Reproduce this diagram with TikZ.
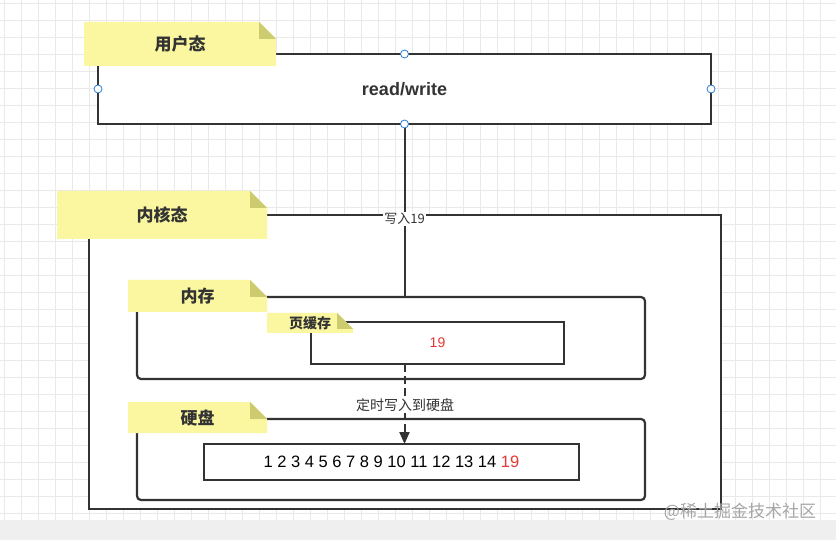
\documentclass[tikz,border=0pt]{standalone}
\usepackage{fontspec}
\setmainfont{Noto Sans CJK SC}
\newfontfamily\latinfont{Liberation Sans}
\usetikzlibrary{arrows.meta,calc,positioning}

\definecolor{ink}{HTML}{333333}
\definecolor{notefill}{HTML}{FAF7A0}
\definecolor{notefold}{HTML}{CDCB70}
\definecolor{handleblue}{HTML}{2B7BD6}
\definecolor{numred}{HTML}{E53935}
\definecolor{gridgray}{HTML}{E9E9E9}
\definecolor{stripgray}{HTML}{EFEFEF}

\begin{document}
\begin{tikzpicture}[x=1pt,y=-1pt,
  box/.style={draw=ink,line width=2.2pt,fill=white,inner sep=0pt,outer sep=0pt},
  roundbox/.style={box,rounded corners=4pt},
  wire/.style={draw=ink,line width=2pt},
  edgelabel/.style={fill=white,inner sep=1pt,text=ink,font=\fontsize{13}{13}\selectfont},
  notetext/.style={text=ink,font=\fontsize{#1}{#1}\selectfont\bfseries},
  handle/.style={draw=handleblue,fill=white,line width=0.8pt}]
\useasboundingbox (0,0) rectangle (836,540);

% Background grid
\fill[white] (0,0) rectangle (836,520);
\foreach \gx in {4,21,...,836}
  \draw[gridgray,line width=0.6pt] (\gx,0) -- (\gx,520);
\foreach \gy in {3,20,...,520}
  \draw[gridgray,line width=0.6pt] (0,\gy) -- (836,\gy);
\fill[stripgray] (0,520) rectangle (836,540);

% Boxes
\node[box,minimum width=613pt,minimum height=70pt,
  font=\latinfont\fontsize{18}{18}\selectfont\bfseries,text=ink] (user) at (404.5,89) {read/write};
\node[box,minimum width=632pt,minimum height=294pt] (kernel) at (405,362) {};
\node[roundbox,minimum width=508pt,minimum height=82pt] (mem) at (391,338) {};
\node[box,minimum width=253pt,minimum height=42pt,
  font=\latinfont\fontsize{14}{14}\selectfont,text=numred] (cache) at (437.5,343) {19};
\node[roundbox,minimum width=508pt,minimum height=81pt] (disk) at (391,459.5) {};
\node[box,minimum width=375pt,minimum height=36pt,
  font=\latinfont\fontsize{16.5}{16.5}\selectfont,text=black] (row) at (391.5,462)
  {1 2 3 4 5 6 7 8 9 10 11 12 13 14 \textcolor{numred}{19}};

% Connectors
\draw[wire] (user.south) -- (user.south |- mem.north);
\node[edgelabel] (write19) at ([yshift=-4pt]user.south |- kernel.north) {写入19};
\draw[wire,dash pattern=on 8pt off 4pt,-{Triangle[length=12pt,width=10pt]}]
  (user.south |- cache.south) -- (user.south |- row.north);
\node[edgelabel,font=\fontsize{14}{14}\selectfont] (flush) at (405,405) {定时写入到硬盘};

% Selection handles
\foreach \side in {north,south,east,west}
  \draw[handle] (user.\side) circle (4);

% Notes
\foreach \xa/\ya/\xb/\yb/\f/\fs/\nm/\txt in {
    84/22/276/66/17/17/nuser/用户态,
    57/191/267/239/17/17/nkernel/内核态,
    128/280/267/312/17/17/nmem/内存,
    267/313/353/333/16/14/ncache/页缓存,
    128/402/267/433/17/17/ndisk/硬盘}{
  \fill[notefill] (\xa,\ya) -- (\xb-\f,\ya) -- (\xb,\ya+\f) -- (\xb,\yb) -- (\xa,\yb) -- cycle;
  \fill[notefold] (\xb-\f,\ya) -- (\xb-\f,\ya+\f) -- (\xb,\ya+\f) -- cycle;
  \node[notetext=\fs] (\nm) at ({(\xa+\xb)/2},{(\ya+\yb)/2}) {\txt};
}

% Watermark
\node[text=black!35,font=\fontsize{17}{17}\selectfont] (mark) at (740,512) {@稀土掘金技术社区};
\end{tikzpicture}
\end{document}
